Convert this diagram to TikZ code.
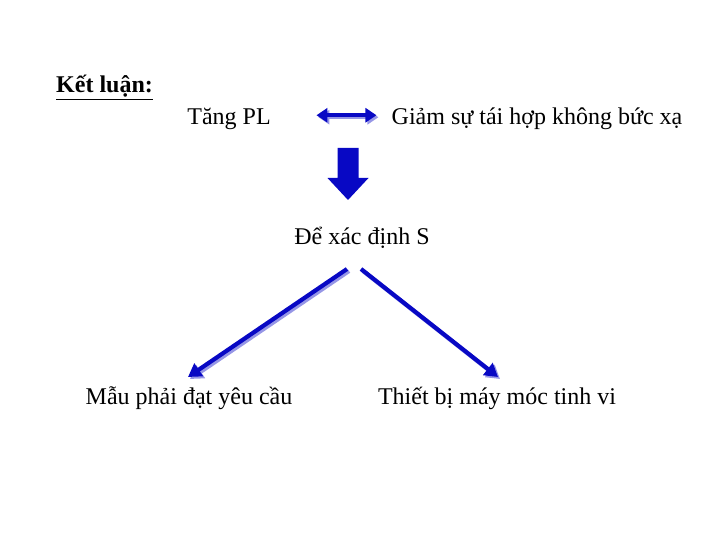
\documentclass[tikz,border=0pt]{standalone}
\usepackage{fontspec}
\setmainfont{Liberation Serif}
\usetikzlibrary{arrows.meta, positioning, calc}
\definecolor{arrowblue}{RGB}{8,8,196}
\definecolor{shadeblue}{RGB}{150,150,230}

\tikzset{
  txt/.style={anchor=base, inner sep=2pt, font=\fontsize{24}{28}\selectfont},
  bluearrow/.style={arrowblue, line width=4.2pt, -{Triangle[length=13pt,width=15pt]}},
  bothways/.style={arrowblue, line width=4.2pt, {Triangle[length=11pt,width=14pt]}-{Triangle[length=11pt,width=14pt]}},
  shadow/.style={shadeblue, transform canvas={shift={(1pt,-1pt)}}}
}

\begin{document}
\begin{tikzpicture}[x=1pt, y=-1pt]
  \useasboundingbox (0,0) rectangle (720,540);
  % texts
  \node[txt, anchor=base west, font=\fontsize{24}{28}\selectfont\bfseries] (ketluan) at (54,93) {\underline{Kết luận:}};
  \node[txt] (tang) at (229,125) {Tăng PL};
  \node[txt] (giam) at (537,125) {Giảm sự tái hợp không bức xạ};
  \node[txt] (dinh) at (362,244) {Để xác định S};
  \node[txt] (mau) at (189,404) {Mẫu phải đạt yêu cầu};
  \node[txt] (thiet) at (497,404) {Thiết bị máy móc tinh vi};
  % double arrow
  \draw[bothways, shadow] ([xshift=-72pt,yshift=3pt]giam.west) -- ([xshift=-12pt,yshift=3pt]giam.west);
  \draw[bothways] ([xshift=-73pt,yshift=4pt]giam.west) -- ([xshift=-13pt,yshift=4pt]giam.west);
  % block arrow down
  \coordinate (blk) at (348,148);
  \fill[arrowblue] ($(blk)+(-10.5,0)$) -- ($(blk)+(10.5,0)$) -- ($(blk)+(10.5,30)$)
    -- ($(blk)+(20.5,30)$) -- ($(blk)+(0,52)$) -- ($(blk)+(-20.5,30)$)
    -- ($(blk)+(-10.5,30)$) -- cycle;
  % branches
  \draw[bluearrow, shadow] ([xshift=-14pt,yshift=-26pt]dinh.base) -- ([xshift=0pt,yshift=26pt]mau.base);
  \draw[bluearrow] ([xshift=-15pt,yshift=-25pt]dinh.base) -- ([xshift=-1pt,yshift=27pt]mau.base);
  \draw[bluearrow, shadow] ([xshift=0pt,yshift=-26pt]dinh.base) -- ([xshift=2pt,yshift=26pt]thiet.base);
  \draw[bluearrow] ([xshift=-1pt,yshift=-25pt]dinh.base) -- ([xshift=1pt,yshift=27pt]thiet.base);
\end{tikzpicture}
\end{document}
